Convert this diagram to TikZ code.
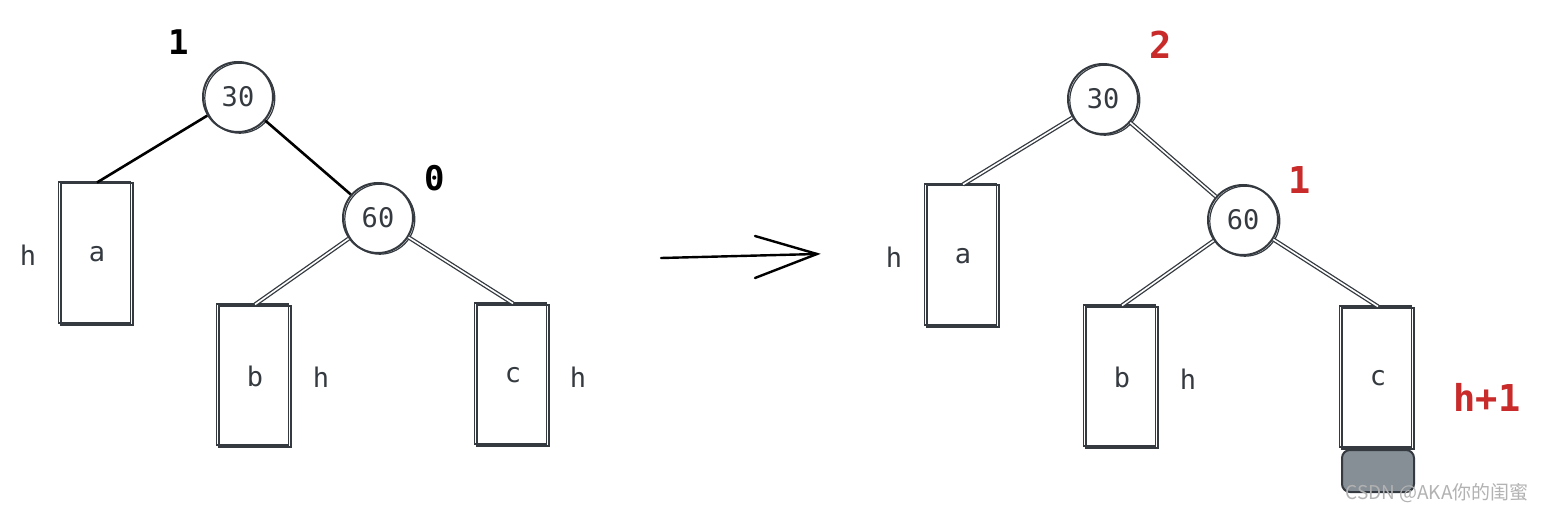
\documentclass[tikz,border=0pt]{standalone}
\usepackage{fontspec}
\setmonofont{DejaVu Sans Mono}
\newfontfamily\cjkwm{Noto Sans CJK SC}
\definecolor{ink}{HTML}{343A40}
\definecolor{exred}{HTML}{C92A2A}
\definecolor{boxgray}{HTML}{868E96}
\begin{document}
\begin{tikzpicture}[x=1pt,y=-1pt,
  txt/.style={font=\ttfamily\fontsize{27}{30}\selectfont, text=ink, inner sep=0pt},
  bal/.style={font=\ttfamily\bfseries\fontsize{34}{38}\selectfont, text=black, inner sep=0pt},
  redlab/.style={font=\ttfamily\bfseries\fontsize{37}{40}\selectfont, text=exred, inner sep=0pt},
  rnode/.style={circle, draw=ink, line width=2pt, minimum size=70pt, inner sep=0pt,
     font=\ttfamily\fontsize{27}{30}\selectfont, text=ink,
     preaction={draw=ink, line width=1.2pt, transform canvas={xshift=1.8pt,yshift=-1.2pt}}},
  subtree/.style={rectangle, draw=ink, line width=2pt, minimum width=72pt, minimum height=141pt, inner sep=0pt,
     font=\ttfamily\fontsize{27}{30}\selectfont, text=ink,
     preaction={draw=ink, line width=1.2pt, transform canvas={xshift=-2.5pt,yshift=1.5pt}}},
  boldedge/.style={draw=black, line width=2.6pt},
  dbledge/.style={draw=ink, line width=1.3pt, double=white, double distance=1.6pt},
  arrowline/.style={draw=black, line width=2.4pt, line cap=round}
]
\useasboundingbox (0,0) rectangle (1545,513);
\fill[white] (0,0) rectangle (1545,513);

% ---------- left tree ----------
\node[rnode] (L30) at (238,97) {30};
\node[rnode] (L60) at (378,218) {60};
\node[subtree] (La) at (97,254) {a};
\node[subtree] (Lb) at (255,376) {b};
\node[subtree] (Lc) at (513,375) {c};
\node[txt] (Lha) at (28,255) {h};
\node[txt] (Lhb) at (321,377) {h};
\node[txt] (Lhc) at (578,377) {h};
\node[bal] (Lbal30) at (179,42) {1};
\node[bal] (Lbal60) at (435,178) {0};

\draw[boldedge] (L30) -- (La.north);
\draw[boldedge] (L30) -- (L60);
\draw[dbledge] (L60) -- (Lb.north);
\draw[dbledge] (L60) -- (Lc.north);

% ---------- arrow ----------
\coordinate (arS) at (661,258);
\coordinate (arE) at (817,254);
\coordinate (arU) at (755,236);
\coordinate (arD) at (755,278);
\draw[arrowline] (arS) -- (arE);
\draw[arrowline] (arU) -- (arE) -- (arD);

% ---------- right tree ----------
\node[rnode] (R30) at (1103,99) {30};
\node[rnode] (R60) at (1243,220) {60};
\node[subtree] (Ra) at (963,256) {a};
\node[subtree] (Rb) at (1122,377) {b};
\node[subtree] (Rc) at (1378,378) {c};
\node[txt] (Rha) at (894,257) {h};
\node[txt] (Rhb) at (1188,379) {h};
\node[redlab] (Rhc) at (1487,397) {h+1};
\node[redlab] (Rbal30) at (1161,45) {2};
\node[redlab] (Rbal60) at (1300,180) {1};
\node[draw=ink, line width=2pt, fill=boxgray, rounded corners=8pt,
      minimum width=72pt, minimum height=42pt, inner sep=0pt] (Rnew) at (1378,471) {};

\draw[dbledge] (R30) -- (Ra.north);
\draw[dbledge] (R30) -- (R60);
\draw[dbledge] (R60) -- (Rb.north);
\draw[dbledge] (R60) -- (Rc.north);

% ---------- watermark ----------
\node[font=\cjkwm\fontsize{19}{21}\selectfont, text=black!30, inner sep=0pt] (wm) at (1437,493) {CSDN @AKA你的闺蜜};
\end{tikzpicture}
\end{document}
